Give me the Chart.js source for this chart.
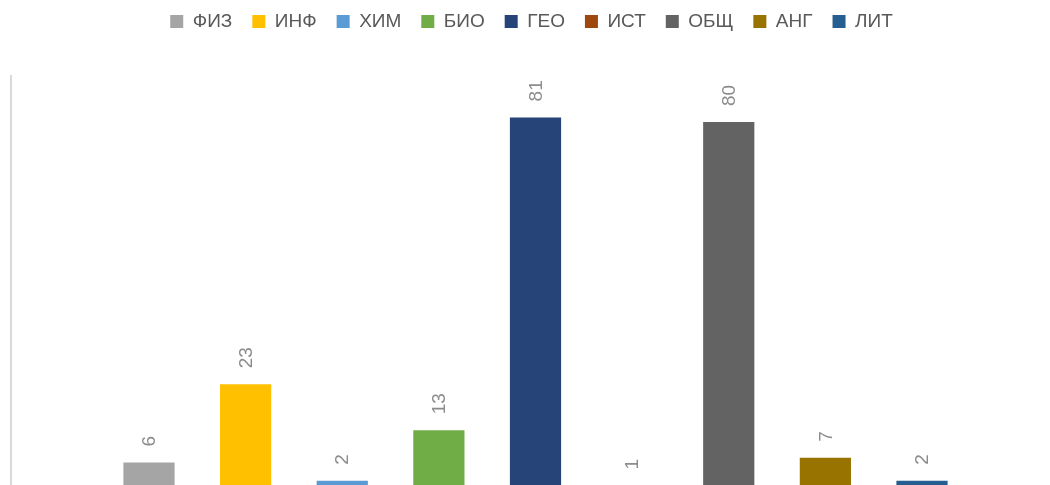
<!DOCTYPE html>
<html>
<head>
<meta charset="utf-8">
<script src="https://cdn.jsdelivr.net/npm/chart.js@4/dist/chart.umd.min.js"></script>
<style>
  html, body { margin: 0; padding: 0; background: #fff; overflow: hidden; }
  #wrap { position: relative; top: -8px; width: 1068px; height: 498px; }
</style>
</head>
<body>
<div id="wrap"><canvas id="chart"></canvas></div>
<script>
// subjects and number of students per subject
const subjects = ["ФИЗ", "ИНФ", "ХИМ", "БИО", "ГЕО", "ИСТ", "ОБЩ", "АНГ", "ЛИТ"];
const counts = [6, 23, 2, 13, 81, 1, 80, 7, 2];
const colors = ["#a5a5a5", "#ffc000", "#5b9bd5", "#70ad47", "#264478", "#9e480e", "#636363", "#997300", "#255e91"];

// value labels, rotated, above each bar
const barValues = {
  id: "barValues",
  afterDatasetsDraw(chart) {
    const ctx = chart.ctx;
    ctx.save();
    ctx.font = "19px 'Liberation Sans', sans-serif";
    ctx.fillStyle = "#8c8c8c";
    ctx.textAlign = "left";
    ctx.textBaseline = "middle";
    chart.data.datasets.forEach((ds, i) => {
      const bar = chart.getDatasetMeta(i).data[0];
      ctx.save();
      ctx.translate(bar.x + 1, bar.y - 16);
      ctx.rotate(-Math.PI / 2);
      ctx.fillText(String(ds.data[0]), 0, 0);
      ctx.restore();
    });
    ctx.restore();
  }
};

// extra space under the legend
const legendGap = {
  id: "legendGap",
  beforeInit(chart) {
    const fit = chart.legend.fit;
    chart.legend.fit = function () {
      fit.bind(chart.legend)();
      this.height += 35;
    };
  }
};

const datasets = subjects.map((s, i) => ({
  label: s,
  data: [counts[i]],
  backgroundColor: colors[i],
  categoryPercentage: 0.829,
  barPercentage: 0.53
}));

new Chart(document.getElementById("chart"), {
  type: "bar",
  data: { labels: [""], datasets: datasets },
  options: {
    responsive: true,
    maintainAspectRatio: false,
    animation: false,
    layout: { padding: { left: 3, right: 8, top: 0, bottom: 0 } },
    plugins: {
      legend: {
        position: "top",
        labels: {
          font: { family: "'Liberation Sans', sans-serif", size: 19 },
          color: "#595959",
          boxWidth: 13,
          boxHeight: 13,
          padding: 20
        }
      },
      tooltip: { enabled: false }
    },
    scales: {
      x: { display: false },
      y: {
        min: 0,
        max: 90,
        ticks: { display: false },
        grid: { display: false },
        border: { display: true, color: "#d9d9d9", width: 2 }
      }
    }
  },
  plugins: [barValues, legendGap]
});
</script>
</body>
</html>
